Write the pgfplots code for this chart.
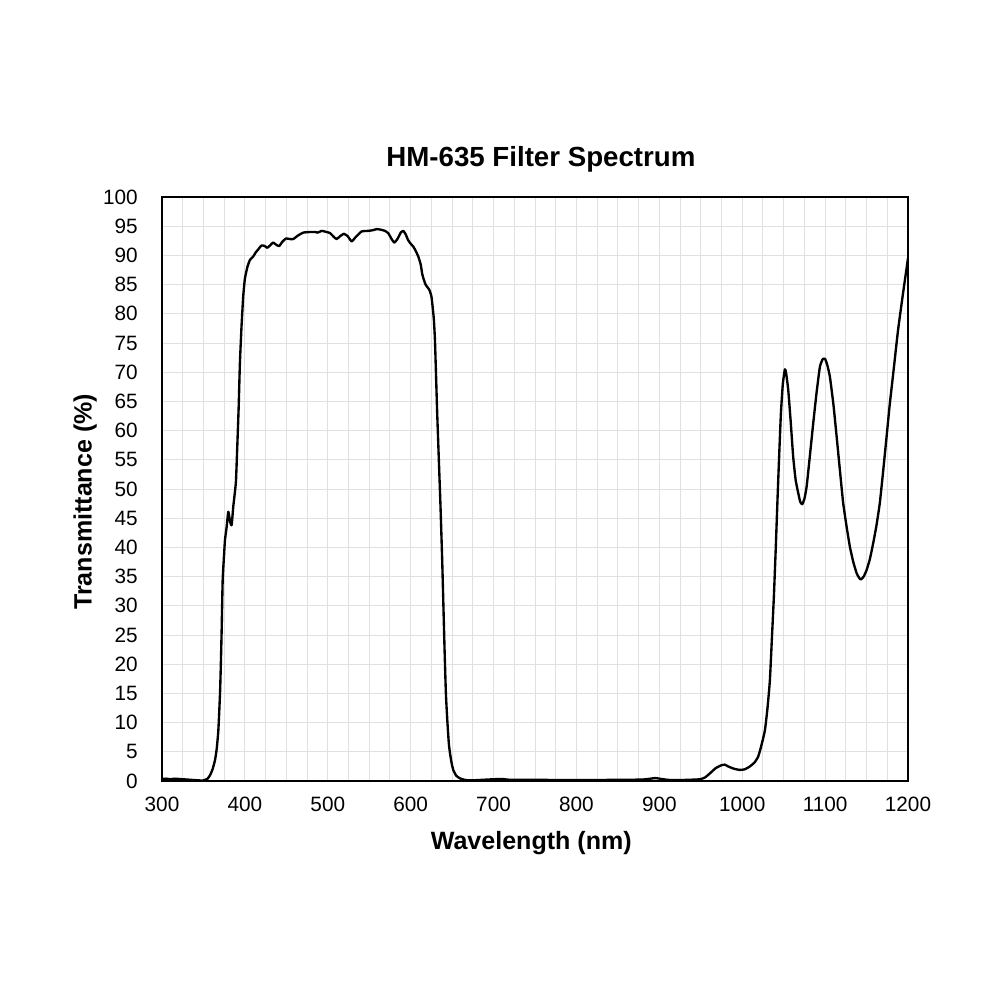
\documentclass[border=0pt]{standalone}
\usepackage{pgfplots}
\pgfplotsset{compat=1.18}
\usepackage{fontspec}
\setmainfont{Liberation Sans}
\pgfplotstableread{
x y
300 0.35
305 0.4
310 0.3
315 0.4
320 0.35
325 0.3
330 0.25
335 0.2
340 0.15
345 0.1
350 0.1
355 0.4
358 1.0
361 2.0
364 3.6
366 5.5
368 8.7
370 15
371 20
372 26
373.2 34.4
375 39
376 41.3
378 43.5
380 46.1
382 44.5
384 43.8
386 47
388 49.5
389.3 51.5
390.8 57.2
392.5 64
394 71.6
396 78
398 83
400 86
403 88
406 89.2
410 89.8
413 90.5
416 91
420 91.7
424 91.6
427 91.3
431 91.8
434 92.2
438 91.8
441.5 91.6
445 92.3
449.6 92.9
454 92.8
458.4 92.8
464 93.4
470.5 93.9
478 94
484.6 94.0
488 93.9
492.6 94.2
498.7 94.0
503 93.8
507 93.2
510.7 92.8
515 93.3
519.5 93.7
524 93.3
528.8 92.4
534 93.2
540.9 94.1
548.9 94.2
554 94.3
559 94.5
564 94.4
569 94.2
573 93.8
577 92.8
580.3 92.2
584 92.8
588 93.9
591.1 94.2
594 93.6
597 92.6
600 92.0
603.2 91.5
606 90.8
609.2 89.8
612 88.5
614 86.8
615.3 86.1
618 85
622.5 84.1
625 83
626.5 81.2
628 79
629.3 75.5
630.5 70
632 63
634 55
636 47
638 38
639.5 30
641 22
642.5 15
644.2 10.4
646 6.5
647.4 4.8
649.5 3
651.4 1.9
655 0.9
659.5 0.45
665 0.2
671 0.1
680 0.15
700 0.3
710 0.35
720 0.2
750 0.2
800 0.15
850 0.2
880 0.25
895 0.5
900 0.4
910 0.2
920 0.15
935 0.2
949 0.3
955 0.6
961 1.3
968 2.2
975 2.7
979 2.8
983 2.5
990 2.1
997 1.9
1003 2.0
1009.3 2.5
1015 3.2
1019.3 4.2
1023 6
1027.4 8.7
1030.5 12.5
1033.4 17.3
1036 25
1038.2 31.6
1040.5 40
1042.7 48.7
1044.8 56.5
1046.7 63
1049 68
1051.5 70.5
1053 69.8
1055.5 67
1058.5 61.5
1061.5 55.5
1064.5 51.5
1067.6 49.3
1070 47.8
1072.4 47.4
1075 48.3
1077.7 50.4
1081.5 55.5
1085.7 61.3
1089.7 66.5
1093.7 70.9
1097 72.2
1099.8 72.3
1102.5 71.3
1105.8 69.2
1110 64.5
1113.9 59
1118 53
1121.8 47.6
1126 43.5
1129.9 40.1
1134 37.5
1138 35.6
1141 34.8
1143.2 34.5
1146.5 35
1150 36.1
1154 38
1158 40.7
1162 43.8
1166 47.6
1170 53
1174.2 59
1178 64.5
1182.2 69.8
1188 77.2
1194 83.5
1200 89.5
}\spectrum
\definecolor{gridgray}{HTML}{E0E0E0}
\begin{document}
\begin{tikzpicture}
\path[use as bounding box] (-1.62in,-2.19in) rectangle (8.38in,7.81in);
\begin{axis}[
  at={(0,0)}, anchor=south west,
  scale only axis,
  width=7.46in, height=5.84in,
  xmin=300, xmax=1200, ymin=0, ymax=100,
  xtick={300,400,...,1200},
  ytick={0,5,...,100},
  minor x tick num=3,
  grid=both,
  major grid style={gridgray, line width=0.7pt},
  minor grid style={gridgray, line width=0.7pt},
  major tick length=0pt, minor tick length=0pt,
  axis line style={black, line width=1.9pt},
  /pgf/number format/assume math mode=true,
  /pgf/number format/1000 sep={},
  ticklabel style={font=\fontsize{15}{16}\selectfont},
  yticklabel style={xshift=-14pt},
  xticklabel style={yshift=-8pt},
  title={\textbf{HM-635 Filter Spectrum}},
  title style={font=\fontsize{20}{24}\selectfont, at={(axis description cs:0.508,1.051)}, anchor=center},
  xlabel={\textbf{Wavelength (nm)}},
  ylabel={\textbf{Transmittance (\%)}},
  label style={font=\fontsize{18.1}{22}\selectfont},
  xlabel style={at={(axis description cs:0.495,-0.107)}, anchor=center},
  ylabel style={at={(axis description cs:-0.103,0.478)}, anchor=center},
]
\addplot[black, line width=1.7pt, line join=round, smooth, tension=0.3] table[x=x,y=y] {\spectrum};
\end{axis}
\end{tikzpicture}
\end{document}
